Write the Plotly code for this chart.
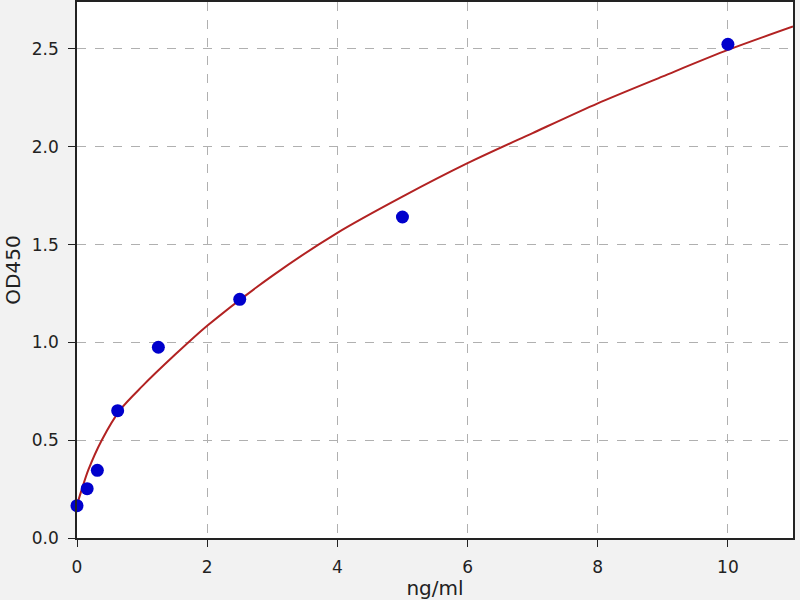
import plotly.graph_objects as go

# standard points (ng/ml vs OD450)
conc = [0, 0.156, 0.3125, 0.625, 1.25, 2.5, 5, 10]
od = [0.165, 0.252, 0.346, 0.651, 0.975, 1.22, 1.641, 2.524]

# fitted curve
curve_x = [0, 0.07, 0.174, 0.38, 0.66, 1, 1.5, 2, 3, 4, 5, 6, 7, 8, 9, 10, 11]
curve_y = [0.17, 0.245, 0.348, 0.5, 0.654, 0.775, 0.935, 1.085, 1.34, 1.56, 1.745, 1.916, 2.07, 2.222, 2.36, 2.495, 2.615]

fig = go.Figure()
fig.add_trace(go.Scatter(x=curve_x, y=curve_y, mode="lines",
                         line=dict(color="#b22222", width=2, shape="spline", smoothing=0.8),
                         showlegend=False, hoverinfo="skip"))
fig.add_trace(go.Scatter(x=conc, y=od, mode="markers",
                         marker=dict(color="#0000cc", size=13, line=dict(width=0)),
                         showlegend=False, cliponaxis=False))

ax = dict(showline=True, linecolor="#222", linewidth=1.5, mirror=True,
          ticks="outside", ticklen=7, tickcolor="#222", ticklabelstandoff=6,
          showgrid=True, gridcolor="#b0b0b0", griddash="dash", gridwidth=1,
          zeroline=False, automargin=False, tickfont=dict(size=17, color="#222"))

fig.update_layout(
    width=800, height=600,
    margin=dict(l=77, r=7, t=2, b=62),
    paper_bgcolor="#f2f2f2", plot_bgcolor="white",
    font=dict(family="DejaVu Sans", size=17, color="#222"),
    xaxis=dict(ax, range=[0, 11], dtick=2,
               title=dict(text="ng/ml", standoff=6)),
    yaxis=dict(ax, range=[0, 2.74], dtick=0.5, tickformat=".1f",
               title=dict(text="OD450", standoff=6)),
)

# drop the page's default body margin so the figure sits at the corner
fig.write_html("out.html", config={"displayModeBar": False},
               post_script="document.body.style.margin='0';")
